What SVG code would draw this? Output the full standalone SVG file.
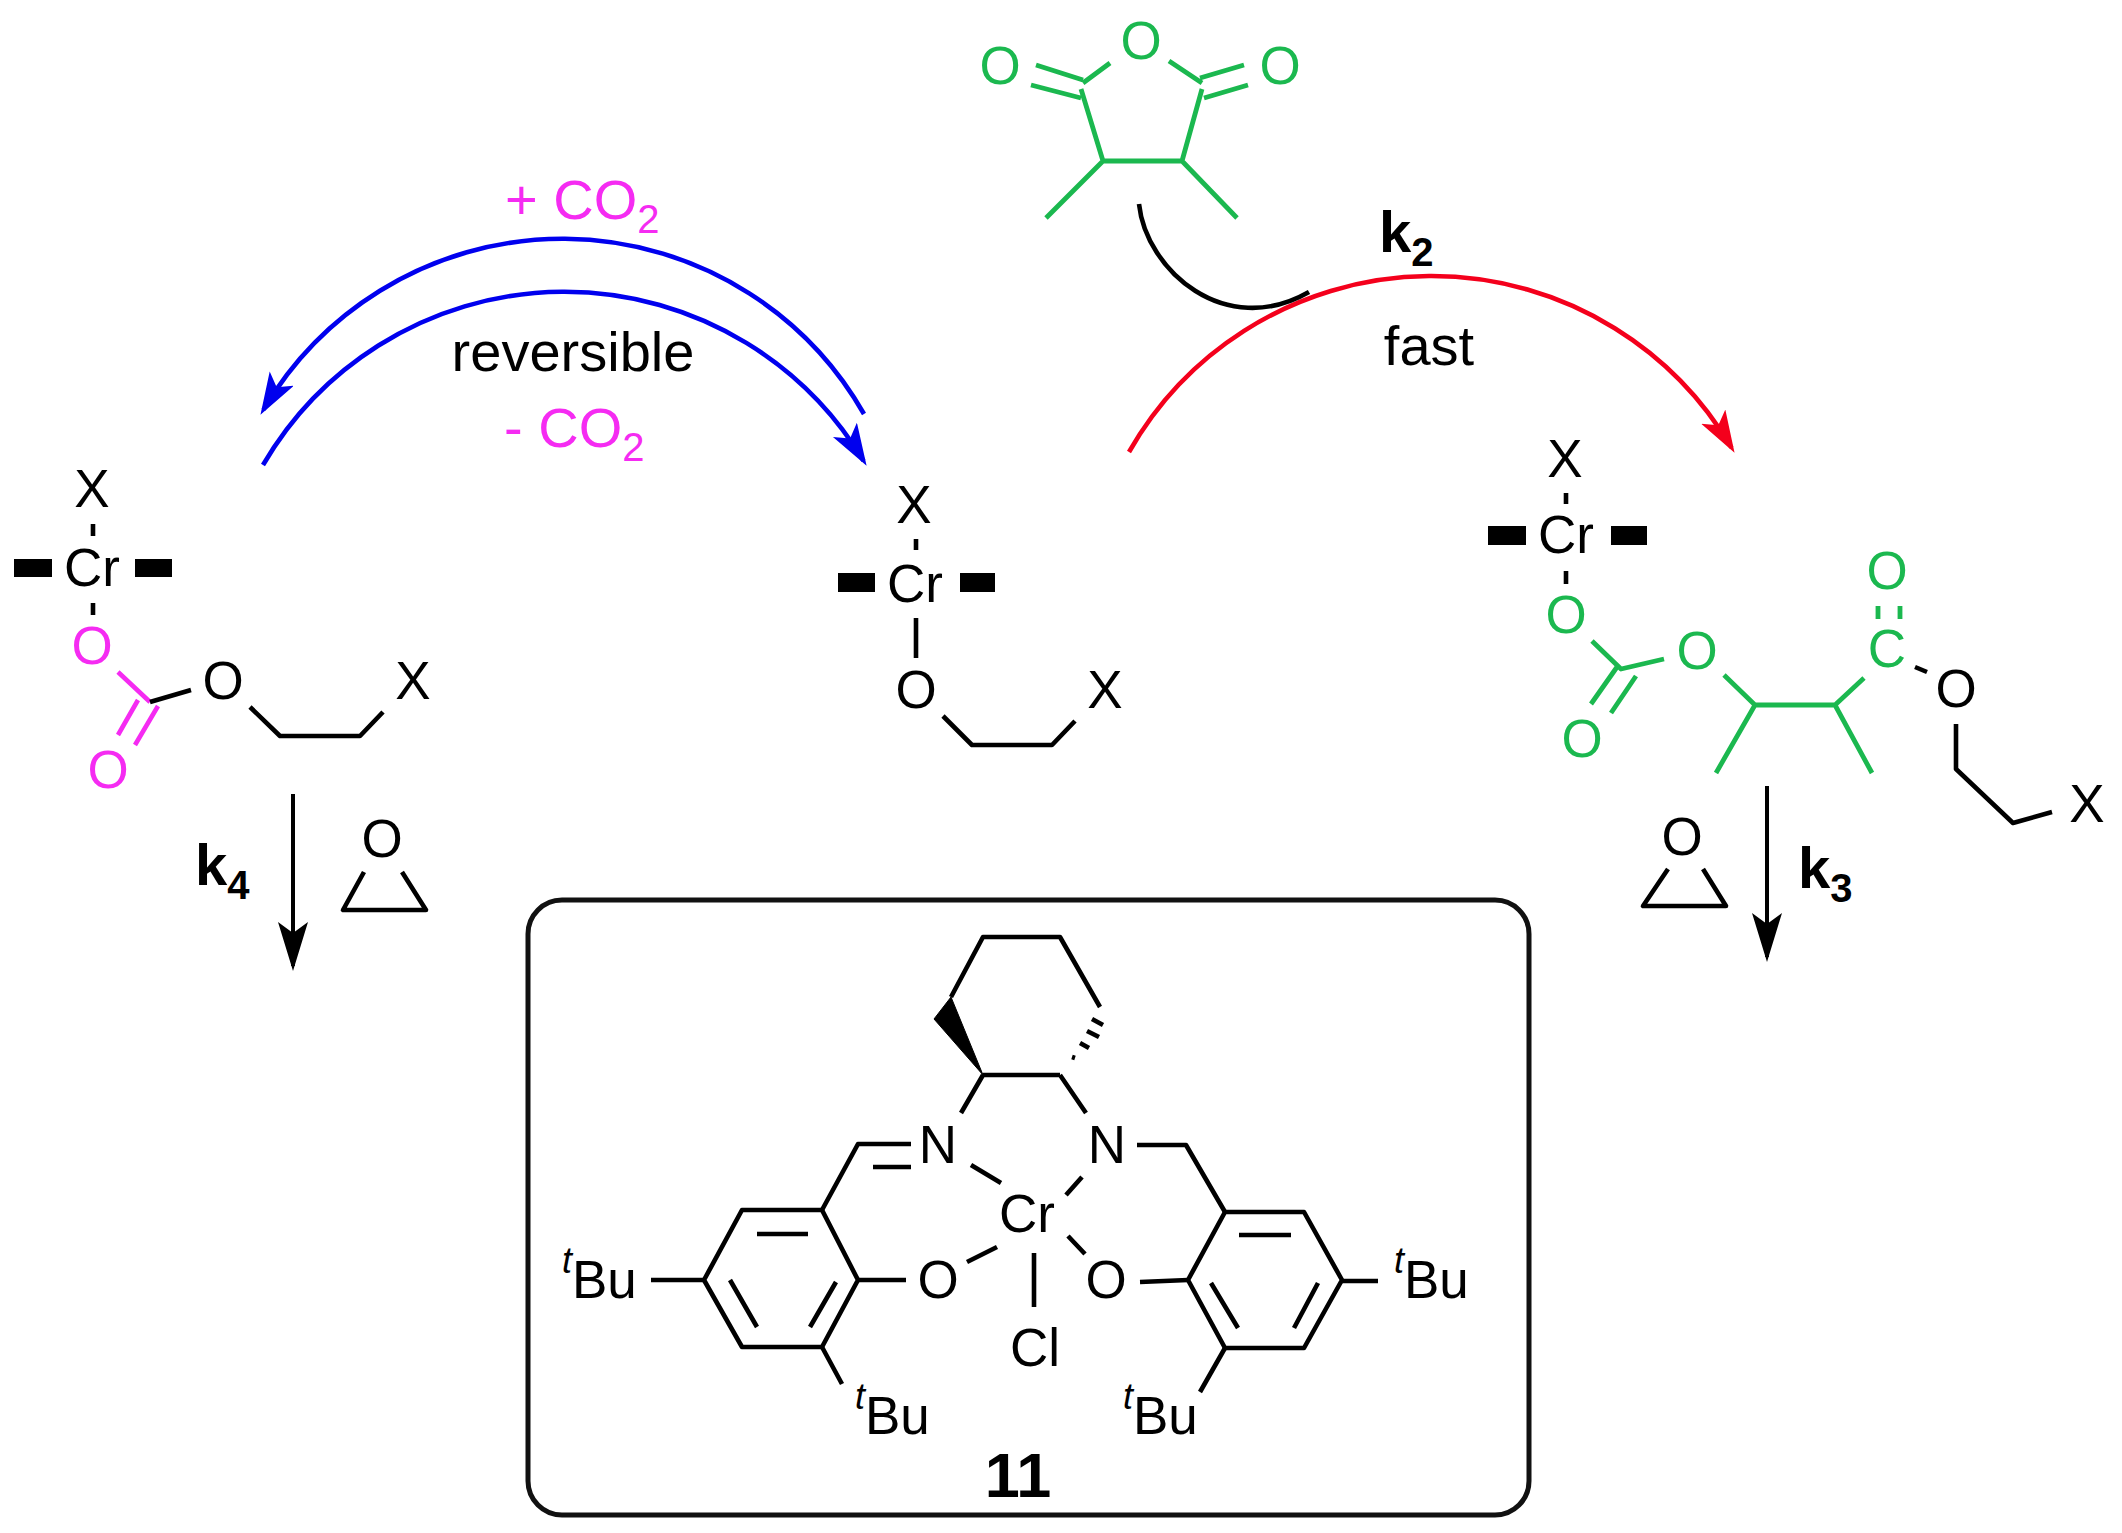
<svg xmlns="http://www.w3.org/2000/svg" width="2122" height="1533" viewBox="0 0 2122 1533">
<style>
text{font-family:"Liberation Sans",Arial,sans-serif;font-size:53px;fill:#000}
.a{text-anchor:middle}
.l{font-size:56px}
.b{font-weight:bold;font-size:58px}
.m{fill:#f52bf2}
.g{fill:#1bb84f}
.s{font-size:40px}
.u{font-size:36px;font-style:italic}
path,line,polyline,polygon{stroke-linecap:butt;stroke-linejoin:round}
.k{fill:none;stroke:#000;stroke-width:4.6}
.pm{fill:none;stroke:#f52bf2;stroke-width:4.6}
.pg{fill:none;stroke:#1bb84f;stroke-width:4.8}
.bar{fill:#000;stroke:none}
.blue{fill:none;stroke:#0000ee;stroke-width:4.6;marker-end:url(#hb)}
.red{fill:none;stroke:#f4001c;stroke-width:4.6;marker-end:url(#hr)}
.blk{fill:none;stroke:#000;stroke-width:4;marker-end:url(#hk)}
</style>
<defs>
<marker id="hb" markerUnits="userSpaceOnUse" markerWidth="50" markerHeight="40" refX="36" refY="14" orient="auto"><path d="M42,14 L0,0 L10,14 L0,28Z" fill="#0000ee" stroke="none"/></marker>
<marker id="hr" markerUnits="userSpaceOnUse" markerWidth="50" markerHeight="40" refX="36" refY="14" orient="auto"><path d="M42,14 L0,0 L10,14 L0,28Z" fill="#f4001c" stroke="none"/></marker>
<marker id="hk" markerUnits="userSpaceOnUse" markerWidth="60" markerHeight="40" refX="44" refY="15" orient="auto"><path d="M49,15 L0,0 L11,15 L0,30Z" fill="#000" stroke="none"/></marker>
</defs>
<rect width="2122" height="1533" fill="#fff"/>

<g id="connectors">
<path class="blue" d="M864,414 A347,347 0 0 0 263.5,409.7"/>
<path class="blue" d="M263,465 A349,349 0 0 1 863.5,460.7"/>
<path class="red" d="M1129,452 A348,348 0 0 1 1731.5,447.7"/>
<path class="k" d="M1139,204 C1146,270 1225,340 1309,292"/>
<path class="blk" d="M293,794 L293,966"/>
<path class="blk" d="M1767,786 L1767,957"/>
</g>

<g id="label-plus-co2"><text class="l m" x="505" y="219">+ CO<tspan class="s" dy="14">2</tspan></text></g>
<g id="label-reversible"><text class="l a" x="573" y="371">reversible</text></g>
<g id="label-minus-co2"><text class="l m" x="504" y="447">- CO<tspan class="s" dy="14">2</tspan></text></g>
<g id="label-k2"><text class="b" x="1379" y="252">k<tspan class="s" dy="14">2</tspan></text></g>
<g id="label-fast"><text class="l a" x="1429" y="365">fast</text></g>
<g id="label-k4"><text class="b" x="195" y="885">k<tspan class="s" dy="14">4</tspan></text></g>
<g id="label-k3"><text class="b" x="1798" y="888">k<tspan class="s" dy="14">3</tspan></text></g>

<g id="left-complex">
<text class="a" x="92" y="507">X</text>
<text class="a" x="92" y="586">Cr</text>
<rect class="bar" x="14" y="559" width="38" height="18"/>
<rect class="bar" x="135" y="559" width="37" height="18"/>
<path class="k" d="M93,524V536M93,603V615"/>
<text class="a m" x="92" y="664">O</text>
<path class="pm" d="M118,672L150,702M138,700L118,735M158,706L135,745"/>
<path class="k" d="M150,702L191,690"/>
<text class="a m" x="108" y="788">O</text>
<text class="a" x="223" y="699">O</text>
<polyline class="k" points="250,707 280,736 360,736 383,712"/>
<text class="a" x="413" y="699">X</text>
</g>

<g id="left-epoxide">
<text class="a" x="382" y="857">O</text>
<polyline class="k" points="364,872 343,910 426,910 402,872"/>
</g>

<g id="middle-complex">
<text class="a" x="914" y="523">X</text>
<text class="a" x="915" y="602">Cr</text>
<rect class="bar" x="838" y="573" width="37" height="19"/>
<rect class="bar" x="960" y="573" width="35" height="19"/>
<path class="k" d="M916,539V550M916,618V658"/>
<text class="a" x="916" y="708">O</text>
<polyline class="k" points="943,716 972,745 1052,745 1075,721"/>
<text class="a" x="1105" y="708">X</text>
</g>

<g id="anhydride">
<text class="a g" x="1000" y="84">O</text>
<text class="a g" x="1141" y="59">O</text>
<text class="a g" x="1280" y="84">O</text>
<path class="pg" d="M1110,63L1083,83M1036,65L1083,80M1031,85L1081,98M1081,89L1103,161L1182,161L1202,89M1169,61L1202,83M1244,65L1200,78M1248,85L1204,98M1103,161L1046,218M1182,161L1237,218"/>
</g>

<g id="right-complex">
<text class="a" x="1565" y="477">X</text>
<text class="a" x="1566" y="553">Cr</text>
<rect class="bar" x="1488" y="526" width="38" height="19"/>
<rect class="bar" x="1611" y="526" width="36" height="19"/>
<path class="k" d="M1566,493V504M1566,571V584"/>
<text class="a g" x="1566" y="633">O</text>
<path class="pg" d="M1592,641L1621,669L1664,659M1617,667L1591,704M1636,676L1611,713M1724,675L1755,705L1835,705L1864,678M1755,705L1716,773M1835,705L1872,773M1878,606V619M1900,606V619"/>
<text class="a g" x="1697" y="669">O</text>
<text class="a g" x="1582" y="757">O</text>
<text class="a g" x="1887" y="667">C</text>
<text class="a g" x="1887" y="589">O</text>
<path class="k" d="M1915,667L1927,672"/>
<text class="a" x="1956" y="707">O</text>
<polyline class="k" points="1956,724 1956,769 2013,823 2052,812"/>
<text class="a" x="2087" y="822">X</text>
</g>

<g id="right-epoxide">
<text class="a" x="1682" y="855">O</text>
<polyline class="k" points="1668,869 1643,906 1726,906 1703,869"/>
</g>

<g id="catalyst-11">
<rect x="528" y="900" width="1001" height="615" rx="34" fill="none" stroke="#111" stroke-width="5"/>
<path class="k" d="M951,997L983,937L1060,937L1100,1007M983,1075L1060,1075M983,1075L961,1113M1060,1075L1086,1113"/>
<polygon points="983,1075 934,1019 951,997" fill="#000" stroke="#000" stroke-width="1"/>
<path class="k" d="M1072,1057L1075,1058M1080,1043L1089,1048M1087,1031L1099,1037M1092,1019L1103,1025"/>
<text class="a" x="938" y="1163">N</text>
<text class="a" x="1107" y="1163">N</text>
<path class="k" d="M911,1144L858,1144L822,1210M873,1167L911,1167"/>
<polygon class="k" points="822,1210 742,1210 704,1280 742,1347 822,1347 858,1280"/>
<path class="k" d="M757,1234L808,1234M730,1280L757,1327M836,1282L810,1327M651,1280L704,1280M858,1280L906,1280"/>
<text class="a" x="938" y="1298">O</text>
<path class="k" d="M967,1262L997,1247M971,1165L1001,1183M1082,1177L1066,1195M1068,1236L1085,1254M1034,1253L1034,1307"/>
<text class="a" x="1027" y="1232">Cr</text>
<text class="a" x="1106" y="1298">O</text>
<text class="a" x="1035" y="1366">Cl</text>
<path class="k" d="M1137,1145L1186,1145L1225,1212"/>
<polygon class="k" points="1225,1212 1304,1212 1342,1280 1304,1348 1225,1348 1188,1280"/>
<path class="k" d="M1239,1235L1291,1235M1318,1283L1294,1328M1211,1283L1238,1328M1140,1282L1188,1280M1342,1281L1378,1281M822,1347L842,1384M1225,1348L1200,1392"/>
<text x="562" y="1298"><tspan class="u" dy="-25">t</tspan><tspan dy="25">Bu</tspan></text>
<text x="1394" y="1298"><tspan class="u" dy="-25">t</tspan><tspan dy="25">Bu</tspan></text>
<text x="855" y="1434"><tspan class="u" dy="-25">t</tspan><tspan dy="25">Bu</tspan></text>
<text x="1123" y="1434"><tspan class="u" dy="-25">t</tspan><tspan dy="25">Bu</tspan></text>
<text class="b a" style="font-size:63px" x="1018" y="1497">11</text>
</g>
</svg>
